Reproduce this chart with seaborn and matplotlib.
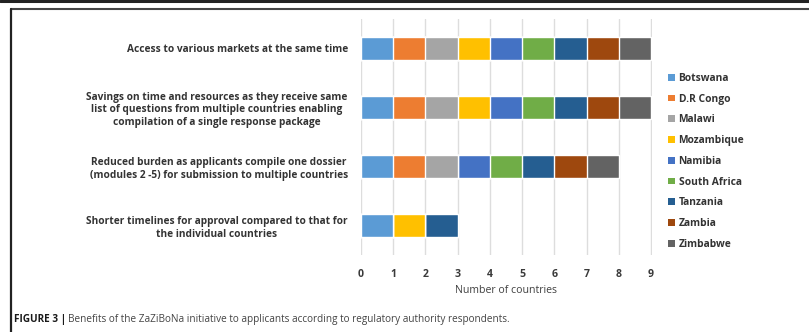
import matplotlib
matplotlib.use("Agg")
import matplotlib.pyplot as plt
import seaborn as sns
import pandas as pd
import numpy as np
from matplotlib.patches import Patch
from matplotlib.lines import Line2D

benefits = [
    "Access to various markets at the same time",
    "Savings on time and resources as they receive same\nlist of questions from multiple countries enabling\ncompilation of a single response package",
    "Reduced burden as applicants compile one dossier\n(modules 2 -5) for submission to multiple countries",
    "Shorter timelines for approval compared to that for\nthe individual countries",
]
countries = ["Botswana", "D.R Congo", "Malawi", "Mozambique", "Namibia",
             "South Africa", "Tanzania", "Zambia", "Zimbabwe"]
botswana = [1, 1, 1, 1]
dr_congo = [1, 1, 1, 0]
malawi = [1, 1, 1, 0]
mozambique = [1, 1, 0, 1]
namibia = [1, 1, 1, 0]
south_africa = [1, 1, 1, 0]
tanzania = [1, 1, 1, 1]
zambia = [1, 1, 1, 0]
zimbabwe = [1, 1, 1, 0]
series = [botswana, dr_congo, malawi, mozambique, namibia,
          south_africa, tanzania, zambia, zimbabwe]
colors = ["#5B9BD5", "#ED7D31", "#A5A5A5", "#FFC000", "#4472C4",
          "#70AD47", "#255E91", "#9E480E", "#636363"]
x_ticks = list(range(0, 10))

sns.set_theme(style="white")
FONT = ["Open Sans", "DejaVu Sans"]
plt.rcParams["font.family"] = FONT

fig = plt.figure(figsize=(8.09, 3.32), dpi=100)
ax = fig.add_axes([0.446, 0.232, 0.3596, 0.711])

cum = np.cumsum(np.array(series), axis=0)
for i in range(len(countries) - 1, -1, -1):
    df = pd.DataFrame({"benefit": benefits, "value": cum[i]})
    sns.barplot(data=df, y="benefit", x="value", order=benefits, color=colors[i],
                saturation=1, width=0.39, orient="h", ax=ax, zorder=3)

ax.set_xlim(0, 9.02)
ax.set_ylim(3.5, -0.5)
ax.set_xticks(x_ticks)
ax.set_xticklabels([str(t) for t in x_ticks], fontsize=7.6, color="#3a3a3a", fontweight="bold")
ax.tick_params(axis="x", length=0, pad=10)
ax.tick_params(axis="y", length=0, pad=9.4)
ax.set_yticks(range(len(benefits)))
ax.set_yticklabels(benefits, fontsize=7.3, color="#333333", fontweight="bold",
                   multialignment="center")
ax.xaxis.grid(True, color="#DDDDDD", linewidth=1, zorder=0)
ax.yaxis.grid(False)
ax.set_axisbelow(True)
for s in ax.spines.values():
    s.set_visible(False)
ax.set_xlabel("Number of countries", fontsize=7.6, color="#404040", labelpad=4)
ax.set_ylabel("")

handles = [Patch(facecolor=c, edgecolor="none") for c in colors]
leg = fig.legend(handles, countries, loc="upper left", bbox_to_anchor=(0.821, 0.793),
                 frameon=False, fontsize=7.4, handlelength=0.65, handleheight=0.65,
                 handletextpad=0.35, labelspacing=0.95, borderaxespad=0)
for t in leg.get_texts():
    t.set_color("#333333")
    t.set_fontweight("bold")

# page frame lines
fig.add_artist(Line2D([0, 1], [0.997, 0.997], color="#222222", lw=2.2, transform=fig.transFigure))
fig.add_artist(Line2D([0.0136, 1], [0.974, 0.974], color="#444444", lw=1.5, transform=fig.transFigure))
fig.add_artist(Line2D([0.0136, 0.0136], [0, 0.974], color="#222222", lw=1.6, transform=fig.transFigure))

# caption
t1 = fig.text(0.0175, 0.03, "FIGURE 3 |", fontsize=7.2, fontweight="bold", color="#1a1a1a",
              va="baseline")
fig.canvas.draw()
bb = t1.get_window_extent(renderer=fig.canvas.get_renderer())
x2 = (bb.x1 + 2) / fig.bbox.width
fig.text(x2, 0.03, "Benefits of the ZaZiBoNa initiative to applicants according to regulatory authority respondents.",
         fontsize=7.2, color="#444444", va="baseline")

fig.savefig("out.png", dpi=100, facecolor="white")
